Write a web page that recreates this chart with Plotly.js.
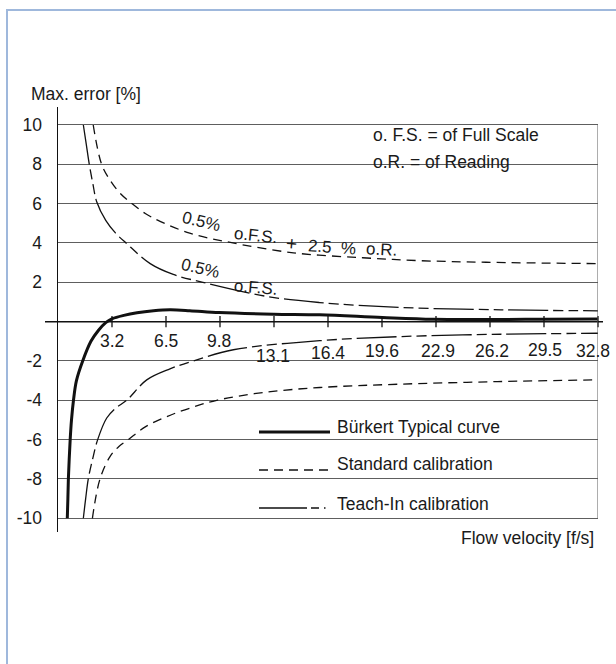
<!DOCTYPE html>
<html><head><meta charset="utf-8">
<script src="https://cdn.plot.ly/plotly-3.0.1.min.js"></script>
<style>html,body{margin:0;padding:0;background:#fff}#chart{width:616px;height:664px}</style>
</head><body><div id="chart"></div>
<script>
// ---- data ----
const tickVals = [3.28, 6.56, 9.84, 13.12, 16.4, 19.68, 22.96, 26.24, 29.52, 32.8];
const tickText = ['3.2', '6.5', '9.8', '13.1', '16.4', '19.6', '22.9', '26.2', '29.5', '32.8'];
const yTickVals = [-10, -8, -6, -4, -2, 2, 4, 6, 8, 10];
const yTickText = ['-10', '-8', '-6', '-4', '-2', '2', '4', '6', '8', '10'];

const typicalX = [0.565, 0.6, 0.63, 0.68, 0.74, 0.82, 0.94, 1.12, 1.5, 2.0, 2.45, 2.9, 3.3, 4.0, 4.8, 5.8, 6.8, 8.0, 9.8, 13.1, 15.9, 19.7, 22.8, 26.2, 29.5, 32.8];
const typicalY = [-10, -9, -8, -7, -6, -5, -4, -3, -2, -1, -0.45, -0.05, 0.15, 0.32, 0.45, 0.55, 0.6, 0.56, 0.46, 0.38, 0.35, 0.21, 0.12, 0.11, 0.12, 0.13];

const stdUpX = [2.14, 2.65, 3.16, 3.8, 4.5, 5.3, 6.2, 8.0, 10.2, 14.3, 18.5, 22.0, 26.0, 32.8];
const stdUpY = [10, 8, 7.2, 6.5, 6, 5.5, 5.1, 4.5, 4.07, 3.5, 3.25, 3.1, 3.02, 2.95];
const stdLoX = [2.09, 2.55, 3.16, 3.7, 4.27, 5.3, 6.6, 8.0, 9.64, 12.5, 15.9, 20.7, 26.7, 32.8];
const stdLoY = [-10, -8, -6.86, -6.35, -6, -5.35, -4.83, -4.4, -4, -3.6, -3.35, -3.18, -3.05, -2.96];

const teachUpX = [1.54, 1.72, 1.9, 2.12, 2.35, 2.9, 3.5, 4.13, 5.6, 7.0, 8.8, 12.7, 15.9, 20.8, 26.9, 32.8];
const teachUpY = [10, 9, 8, 7, 6.1, 5.15, 4.5, 4, 2.95, 2.4, 2, 1.28, 0.97, 0.72, 0.6, 0.55];
const teachLoX = [1.54, 1.68, 1.84, 2.1, 2.41, 2.96, 3.5, 4.17, 5.39, 6.8, 8.22, 10.65, 15.9, 20.8, 26.9, 32.8];
const teachLoY = [-10, -9, -8, -7, -6, -4.9, -4.4, -4, -2.96, -2.4, -2, -1.43, -0.97, -0.76, -0.64, -0.59];

const legendNames = ['Bürkert Typical curve', 'Standard calibration', 'Teach-In calibration'];
const noteLines = ['o. F.S. = of Full Scale', 'o.R. = of Reading'];
const upperLabelParts = ['0.5%', 'o.F.S.', '+', '2.5', '%', 'o.R.'];
const lowerLabelParts = ['0.5%', 'o.F.S.'];

// ---- styling / placement (not data) ----
const FONT = 'Liberation Sans, Arial, Helvetica, sans-serif';
const TXT = '#1a1a1a';
const xRange = [0, 32.8];
const yRange = [-10.697, 10.915];
const tickLabelShiftY = [-19.5, -19.5, -19.5, -34.5, -31, -29, -29, -29, -28, -29];
const tickLabelShiftX = [0, 0, -1.5, -1.5, 0, 0, 2, 1.5, 1, -5];
const upperLabelPos = [[8.69, 5.08, 13], [11.97, 4.40, 6], [14.16, 3.99, 5], [15.92, 3.81, 4], [17.66, 3.74, 4], [19.66, 3.66, 3]];
const lowerLabelPos = [[8.66, 2.71, 13], [11.97, 1.74, 5]];
const upperLabelSize = [17, 17, 19, 17, 17, 17];
const STD_DASH = '9px,6px';
const TEACH_DASH = '40px,5px,10px,5px,10px,5px';

const lineTrace = (x, y, width, dash) => ({
  x: x, y: y, type: 'scatter', mode: 'lines',
  line: {color: '#111', width: width, dash: dash, shape: 'spline', smoothing: 1.0},
  hoverinfo: 'skip', showlegend: false, cliponaxis: true
});

const traces = [
  lineTrace(stdUpX, stdUpY, 1.3, STD_DASH),
  lineTrace(stdLoX, stdLoY, 1.3, STD_DASH),
  lineTrace(teachUpX, teachUpY, 1.3, TEACH_DASH),
  lineTrace(teachLoX, teachLoY, 1.3, TEACH_DASH),
  lineTrace(typicalX, typicalY, 3, 'solid'),
  {
    x: tickVals, y: tickVals.map(() => 0), type: 'scatter', mode: 'markers',
    marker: {symbol: 'line-ns-open', size: 8, color: '#111', line: {color: '#111', width: 1.3}},
    hoverinfo: 'skip', showlegend: false, cliponaxis: false
  }
];

// paper helpers based on the plot area (l=58, width 540, t=107, height 425)
const PL = 58, PW = 540, PT = 107, PH = 425;
const px2x = p => (p - PL) / PW;
const px2y = p => (PT + PH - p) / PH;

const annotations = [];
tickText.forEach((t, i) => annotations.push({
  x: tickVals[i], y: 0, xref: 'x', yref: 'y', text: t, showarrow: false,
  xanchor: 'center', yanchor: 'middle', yshift: tickLabelShiftY[i], xshift: tickLabelShiftX[i],
  font: {family: FONT, size: 17.5, color: TXT}
}));
annotations.push({x: px2x(29), y: px2y(94), xref: 'paper', yref: 'paper', text: 'Max. error [%]',
  showarrow: false, xanchor: 'left', yanchor: 'middle', font: {family: FONT, size: 17.5, color: TXT}});
annotations.push({x: px2x(596), y: px2y(538), xref: 'paper', yref: 'paper', text: 'Flow velocity [f/s]',
  showarrow: false, xanchor: 'right', yanchor: 'middle', font: {family: FONT, size: 17.5, color: TXT}});
noteLines.forEach((t, i) => annotations.push({x: px2x(371), y: px2y([134.5, 162][i]), xref: 'paper', yref: 'paper',
  text: t, showarrow: false, xanchor: 'left', yanchor: 'middle', font: {family: FONT, size: 17.5, color: TXT}}));
legendNames.forEach((t, i) => annotations.push({x: px2x(335), y: px2y([427, 464, 503.5][i]), xref: 'paper', yref: 'paper',
  text: t, showarrow: false, xanchor: 'left', yanchor: 'middle', font: {family: FONT, size: 17.5, color: TXT}}));
upperLabelParts.forEach((t, i) => annotations.push({x: upperLabelPos[i][0], y: upperLabelPos[i][1], xref: 'x', yref: 'y',
  text: t, showarrow: false, textangle: upperLabelPos[i][2], xanchor: 'center', yanchor: 'middle',
  font: {family: FONT, size: upperLabelSize[i], color: TXT}}));
lowerLabelParts.forEach((t, i) => annotations.push({x: lowerLabelPos[i][0], y: lowerLabelPos[i][1], xref: 'x', yref: 'y',
  text: t, showarrow: false, textangle: lowerLabelPos[i][2], xanchor: 'center', yanchor: 'middle',
  font: {family: FONT, size: 17, color: TXT}}));

const legendYs = [432, 470, 508];
const legendDash = ['solid', STD_DASH, '48px,4px,8px,5px,1.5px,40px'];
const legendW = [3, 1.3, 1.3];
const shapes = [
  // outer light-blue frame
  {type: 'rect', xref: 'paper', yref: 'paper', x0: px2x(7), x1: px2x(700), y0: px2y(760), y1: px2y(10),
   line: {color: '#9fb8dc', width: 2}, layer: 'below'},
  // horizontal axis line through zero
  {type: 'line', xref: 'paper', yref: 'y', x0: px2x(45), x1: px2x(603), y0: 0, y1: 0,
   line: {color: '#111', width: 1.5}},
  // right border of the grid
  {type: 'line', xref: 'x', yref: 'y', x0: xRange[1], x1: xRange[1], y0: yTickVals[0], y1: yTickVals[yTickVals.length - 1],
   line: {color: '#5a5a5a', width: 1}}
];
legendYs.forEach((py, i) => shapes.push({type: 'line', xref: 'paper', yref: 'paper',
  x0: px2x(259), x1: px2x(330), y0: px2y(py), y1: px2y(py),
  line: {color: '#111', width: legendW[i], dash: legendDash[i]}}));

const layout = {
  width: 616, height: 664,
  margin: {l: 58, r: 18, t: 107, b: 132, pad: 0},
  paper_bgcolor: '#fff', plot_bgcolor: '#fff',
  showlegend: false,
  font: {family: FONT, size: 17.5, color: TXT},
  xaxis: {range: xRange, showgrid: false, zeroline: false, showline: false, ticks: '', showticklabels: false, fixedrange: true},
  yaxis: {range: yRange, tickvals: yTickVals, ticktext: yTickText, showgrid: true, gridcolor: '#5e5e5e', gridwidth: 1,
    zeroline: false, showline: true, linecolor: '#111', linewidth: 1.5, ticks: '', ticklabelstandoff: 11,
    tickfont: {family: FONT, size: 17.5, color: TXT}, fixedrange: true},
  shapes: shapes,
  annotations: annotations
};

Plotly.newPlot('chart', traces, layout, {displayModeBar: false, staticPlot: true});
</script>
</body></html>
